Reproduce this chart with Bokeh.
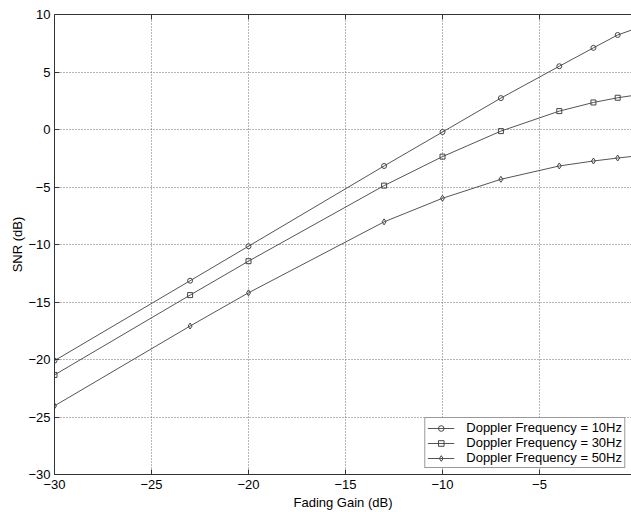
from bokeh.plotting import figure
from bokeh.models import LinearAxis, Range1d, FixedTicker, Legend, CustomJSTickFormatter
from bokeh.embed import file_html
from bokeh.resources import INLINE

# Fading gain (dB) sample points
fading_gain = [-30.0, -23.01, -20.0, -13.01, -10.0, -6.99, -3.98, -2.22, -0.97, 0.0]
# SNR (dB) per Doppler frequency
snr_10hz = [-20.1, -13.15, -10.15, -3.17, -0.22, 2.73, 5.5, 7.1, 8.22, 8.8]
snr_30hz = [-21.34, -14.4, -11.45, -4.88, -2.36, -0.14, 1.6, 2.35, 2.76, 3.0]
snr_50hz = [-24.03, -17.09, -14.2, -8.03, -5.98, -4.33, -3.17, -2.74, -2.48, -2.3]
series_labels = ["Doppler Frequency = 10Hz", "Doppler Frequency = 30Hz", "Doppler Frequency = 50Hz"]
x_ticks = [-30, -25, -20, -15, -10, -5]
y_ticks = [-30, -25, -20, -15, -10, -5, 0, 5, 10]

FONT = "Liberation Sans"
LINE_COLOR = "#555555"

p = figure(width=631, height=512, output_backend="svg", toolbar_location=None,
           x_range=Range1d(-30, -0.258), y_range=Range1d(-30, 10),
           min_border_left=54, min_border_right=0, min_border_top=14, min_border_bottom=37,
           x_axis_label="Fading Gain (dB)", y_axis_label="SNR (dB)")
p.background_fill_color = "white"
p.border_fill_color = "white"
p.outline_line_color = None

for ax in (p.xaxis[0], p.yaxis[0]):
    ax.major_tick_in = 5
    ax.major_tick_out = 0
    ax.minor_tick_line_color = None
    ax.axis_line_color = "#333333"
    ax.major_tick_line_color = "#333333"
    ax.major_label_text_font = FONT
    ax.major_label_text_font_size = "13px"
    ax.major_label_text_color = "black"
    ax.axis_label_text_font = FONT
    ax.axis_label_text_font_size = "13px"
    ax.axis_label_text_font_style = "normal"
    ax.axis_label_text_color = "black"

p.xaxis[0].ticker = FixedTicker(ticks=x_ticks)
p.yaxis[0].ticker = FixedTicker(ticks=y_ticks)
p.xaxis[0].major_label_standoff = 5
p.xaxis[0].axis_label_standoff = 3
p.yaxis[0].major_label_standoff = 4
p.yaxis[0].axis_label_standoff = 0

# top border with inward ticks, no labels
top = LinearAxis(ticker=FixedTicker(ticks=x_ticks),
                 formatter=CustomJSTickFormatter(code="return ''"),
                 major_tick_in=5, major_tick_out=0, minor_tick_line_color=None,
                 axis_line_color="#333333", major_tick_line_color="#333333",
                 major_label_standoff=0)
p.add_layout(top, "above")

for g in (p.xgrid[0], p.ygrid[0]):
    g.grid_line_color = "#6f6f6f"
    g.grid_line_dash = "1 2"
    g.grid_line_width = 1
p.xgrid[0].ticker = FixedTicker(ticks=x_ticks[1:])
p.ygrid[0].ticker = FixedTicker(ticks=y_ticks[1:-1])

items = []
markers = ["circle", "square", "diamond"]
sizes = [5, 5, 6]
for ys, lab, mk, sz in zip([snr_10hz, snr_30hz, snr_50hz], series_labels, markers, sizes):
    r1 = p.line(fading_gain, ys, line_color=LINE_COLOR, line_width=1)
    r2 = p.scatter(fading_gain, ys, marker=mk, size=sz, line_color="#444444",
                   fill_color=None, line_width=1)
    items.append((lab, [r1, r2]))

legend = Legend(items=items, location="bottom_right")
legend.label_text_font = FONT
legend.label_text_font_size = "13px"
legend.label_text_color = "black"
legend.glyph_width = 27
legend.glyph_height = 14
legend.label_height = 14
legend.spacing = 0
legend.padding = 2
legend.margin = 6
legend.label_standoff = 12
legend.border_line_color = "#333333"
legend.border_line_width = 1
legend.background_fill_color = "white"
legend.background_fill_alpha = 1
p.add_layout(legend, "center")

open("out.html", "w").write(file_html(p, INLINE))
